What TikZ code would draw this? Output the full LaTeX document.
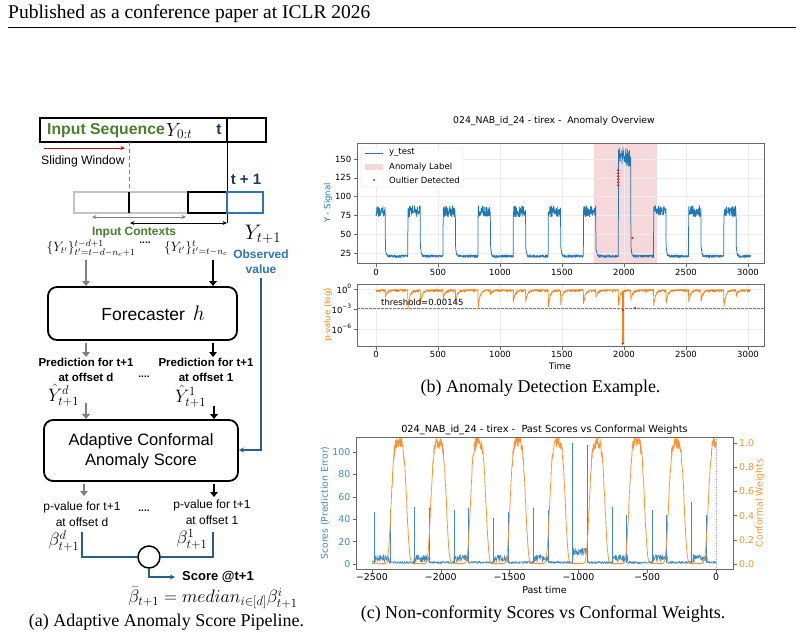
\RequirePackage{fix-cm}
\documentclass[tikz,border=0pt]{standalone}
\usepackage{fontspec}
\setmainfont{Liberation Serif}
\newfontfamily\dsf{Liberation Sans}
\newfontfamily\mpl{DejaVu Sans}
\usetikzlibrary{arrows.meta}
\definecolor{seqgreen}{RGB}{72,128,46}
\definecolor{tblue}{RGB}{31,56,100}
\definecolor{obsblue}{RGB}{46,117,182}
\definecolor{linkblue}{RGB}{38,96,132}
\definecolor{arrgray}{RGB}{128,128,128}
\definecolor{boxgray}{RGB}{195,195,195}
\definecolor{mplblue}{RGB}{31,119,180}
\definecolor{mplorange}{RGB}{255,127,14}
\definecolor{anomfill}{RGB}{247,216,218}
\definecolor{outred}{RGB}{228,30,40}
\definecolor{spine}{RGB}{105,105,105}
\definecolor{gridc}{RGB}{236,236,236}
\newcommand\mtk{\mpl\fontsize{8.5}{10}\selectfont}
\newcommand\mtkc{\mpl\fontsize{9.4}{11}\selectfont}
\newcommand\myexp[1]{10\raisebox{0.55em}{\fontsize{6}{6}\selectfont #1}}
\tikzset{
  lbl/.style={inner sep=0, font=\dsf\fontsize{12}{14}\selectfont},
  blbl/.style={inner sep=0, font=\dsf\bfseries\fontsize{11.5}{13.5}\selectfont},
  garr/.style={draw=arrgray, line width=2.4pt, -{Triangle[width=7.5pt,length=5pt]}},
  karr/.style={draw=black, line width=2.2pt, -{Triangle[width=7.5pt,length=5pt]}},
  bline/.style={draw=linkblue, line width=1.3pt},
  spn/.style={draw=spine, line width=0.6pt},
  gridl/.style={draw=gridc, line width=0.5pt},
  ttl/.style={inner sep=0, font=\mpl\fontsize{9.3}{11}\selectfont},
  captxt/.style={inner sep=0, font=\fontsize{18}{21}\selectfont},
  odot/.style={fill=outred, draw=none},
}
\begin{document}
\begin{tikzpicture}[x=1pt,y=-1pt,
 declare function={
  ph(\t)=mod(\t+25,283);
  pk(\t)=floor((\t+25)/283);
  sig(\t)=(ph(\t)<100) ? ((\t>1950 && \t<2062) ? 140+25*rnd : 73+15*rnd) : (19+3.5*rnd+14*exp(-min(max(0,ph(\t)-100)/6,9)));
  pv(\t)=0.08+0.45*rnd*rnd + (0.9+2.0*abs(sin(pk(\t)*97)))*exp(-min(ph(\t)/14,9)) + (0.6+1.6*abs(sin(pk(\t)*53+20)))*((ph(\t)>=100) ? exp(-min(max(0,ph(\t)-100)/14,9)) : 0);
  sm(\t)=mod(\t+2772,289);
  sc(\t)=(sm(\t)<108) ? (1.5+7*rnd+((\t>-1044 && \t<-933) ? 6 : 0)) : (0.3+2.2*rnd);
  wc(\t)=-2304+288*round((\t+2304)/288);
  we(\t)=(\t-wc(\t))/62;
  wt(\t)=exp(-min((we(\t)*we(\t))*(we(\t)*we(\t)),9));
 }]
\pgfmathsetseed{7}
\useasboundingbox (0,0) rectangle (804,638);
\fill[white] (0,0) rectangle (804,638);

% header
\node[anchor=base west, inner sep=0, font=\fontsize{19.5}{22}\selectfont] (hdr) at (8,18) {Published as a conference paper at ICLR 2026};
\coordinate (hrl) at (8,27.5);
\coordinate (hrr) at (796,27.5);
\draw[line width=0.8pt] (hrl) -- (hrr);

% ================= (a) pipeline =================
\node[draw, line width=1.2pt, minimum width=226pt, minimum height=24pt, inner sep=0] (seqbox) at (153,130) {};
\coordinate (divt) at (227,118);
\coordinate (divb) at (227,142);
\draw[line width=1.2pt] (divt) -- (divb);
\node[anchor=west, inner sep=0, font=\dsf\bfseries\fontsize{15.8}{17}\selectfont, text=seqgreen] (inseq) at (47,131) {Input Sequence};
\node[anchor=west, inner sep=0, font=\fontsize{19}{20}\selectfont] (y0t) at ([xshift=1pt]inseq.east) {$Y_{0:t}$};
\node[inner sep=0, font=\dsf\bfseries\fontsize{15.5}{17}\selectfont, text=tblue] (tlab) at (219,130) {t};

\coordinate (ra) at (44,148);
\coordinate (rb) at (125,148);
\draw[red!80!black, line width=1pt, -{Stealth[length=4.5pt,width=4pt]}] (ra) -- (rb);
\node[anchor=west, inner sep=0, font=\dsf\fontsize{12.2}{13}\selectfont] (slw) at (41,161) {Sliding Window};
\coordinate (dsh) at (129,142);
\coordinate (dshb) at (129,192);
\draw[arrgray, line width=0.9pt, dash pattern=on 4pt off 3pt] (dsh) -- (dshb);
\coordinate (vln) at (227,223);
\draw[line width=1pt] (divb) -- (vln);
\node[inner sep=0, font=\dsf\bfseries\fontsize{15}{17}\selectfont, text=tblue] (tp1) at (246,179) {t + 1};

\draw[boxgray, line width=1.5pt] (74,192) rectangle (188,213);
\draw[black, line width=1.2pt] (188,192) rectangle (227,213);
\draw[black, line width=1.2pt] (129,192) -- (129,213);
\draw[obsblue, line width=1.2pt] (227,192) rectangle (263,213);
\coordinate (ga1) at (92,217);
\coordinate (ga2) at (186,217);
\draw[arrgray, line width=0.9pt, {Stealth[length=4.5pt,width=4pt]}-{Stealth[length=4.5pt,width=4pt]}] (ga1) -- (ga2);
\coordinate (ka1) at (130,223);
\draw[black, line width=0.9pt, {Stealth[length=4.5pt,width=4pt]}-{Stealth[length=4.5pt,width=4pt]}] (ka1) -- (vln);

\node[inner sep=0, font=\dsf\bfseries\fontsize{12}{14}\selectfont, text=seqgreen] (ictx) at (134,233) {Input Contexts};
\node[inner sep=0, font=\fontsize{21}{23}\selectfont] (yt1) at (263,234) {$Y_{t+1}$};
\node[inner sep=0, font=\fontsize{13.5}{15}\selectfont] (ctxl) at (91,248) {$\{Y_{t'}\}^{t-d+1}_{t'=t-d-n_c+1}$};
\node[inner sep=0, font=\dsf\bfseries\fontsize{10}{10}\selectfont] (dots1) at (145,243) {....};
\node[inner sep=0, font=\fontsize{13.5}{15}\selectfont] (ctxr) at (196,248) {$\{Y_{t'}\}^{t}_{t'=t-n_c}$};
\node[inner sep=0, font=\dsf\bfseries\fontsize{12}{14}\selectfont, text=obsblue, fill=white, inner xsep=1pt] (obs) at (261,254) {Observed};
\node[inner sep=0, font=\dsf\bfseries\fontsize{12}{14}\selectfont, text=obsblue] (obsv) at (261,269) {value};

\node[draw, rounded corners=9pt, line width=1.8pt, minimum width=189pt, minimum height=53pt, inner sep=0] (fc) at (142.5,313.5) {};
\node[inner sep=0, font=\dsf\fontsize{17.5}{19}\selectfont] (fct) at (153,313) {Forecaster \,\fontsize{21}{22}\selectfont$h$};
\coordinate (gA) at (86,260);
\coordinate (kA) at (213,260);
\draw[garr] (gA) -- (gA |- fc.north);
\draw[karr] (kA) -- (kA |- fc.north);
\coordinate (obt) at (261,278);
\coordinate (obc) at (261,450);

\coordinate (gB) at (86,343);
\coordinate (gBe) at (86,357);
\coordinate (kB) at (213,343);
\coordinate (kBe) at (213,357);
\draw[garr, line width=2pt] (gB) -- (gBe);
\draw[karr, line width=2pt] (kB) -- (kBe);
\node[blbl] (pdl1) at (86,362.5) {Prediction for t+1};
\node[blbl] (pdl2) at (86,377.5) {at offset d};
\node[blbl] (pdr1) at (206,362.5) {Prediction for t+1};
\node[blbl] (pdr2) at (206,377.5) {at offset 1};
\node[inner sep=0, font=\dsf\bfseries\fontsize{10}{10}\selectfont] (dots2) at (144,377) {....};
\node[inner sep=0, font=\fontsize{18}{19}\selectfont] (yhd) at (63.5,395.5) {$\hat{Y}^{d}_{t+1}$};
\node[inner sep=0, font=\fontsize{18}{19}\selectfont] (yh1) at (190.5,396.5) {$\hat{Y}^{1}_{t+1}$};

\node[draw, rounded corners=9pt, line width=1.8pt, minimum width=194pt, minimum height=61pt, inner sep=0] (acs) at (141,450.5) {};
\node[inner sep=0, font=\dsf\fontsize{16.5}{19}\selectfont] (acs1) at (141,441) {Adaptive Conformal};
\node[inner sep=0, font=\dsf\fontsize{16.5}{19}\selectfont] (acs2) at (141,461) {Anomaly Score};
\coordinate (gC) at (86,403);
\coordinate (kC) at (214,406);
\draw[garr, line width=2.2pt] (gC) -- (gC |- acs.north);
\draw[karr, line width=2pt] (kC) -- (kC |- acs.north);
\draw[bline, -{Stealth[length=5pt,width=5pt]}] (obt) -- (obc) -- (obc -| acs.east);

\coordinate (gD) at (84,484);
\coordinate (gDe) at (84,496);
\coordinate (kD) at (214,484);
\coordinate (kDe) at (214,497);
\draw[garr, line width=2pt] (gD) -- (gDe);
\draw[karr, line width=2pt] (kD) -- (kDe);
\node[lbl] (pvl1) at (82,507) {p-value for t+1};
\node[lbl] (pvl2) at (82,522) {at offset d};
\node[lbl] (pvr1) at (212,505) {p-value for t+1};
\node[lbl] (pvr2) at (212,520) {at offset 1};
\node[inner sep=0, font=\dsf\bfseries\fontsize{10}{10}\selectfont] (dots3) at (144,511) {....};
\node[inner sep=0, font=\fontsize{18}{19}\selectfont] (bd) at (64,541) {$\beta^{d}_{t+1}$};
\node[inner sep=0, font=\fontsize{18}{19}\selectfont] (b1) at (192,539) {$\beta^{1}_{t+1}$};
\node[draw, circle, line width=1.5pt, minimum size=22pt, inner sep=0] (agg) at (149,557) {};
\coordinate (bl1) at (82,532);
\coordinate (br1) at (213,532);
\draw[bline] (bl1) -- (bl1 |- agg.west) -- (agg.west);
\draw[bline] (br1) -- (br1 |- agg.east) -- (agg.east);
\coordinate (scr) at (149,577);
\node[anchor=west, inner sep=0, font=\dsf\bfseries\fontsize{13}{15}\selectfont] (score) at (182,577) {Score @t+1};
\draw[bline, -{Stealth[length=5pt,width=5pt]}] (agg.south) -- (scr) -- ([xshift=-7pt]score.west);
\node[inner sep=0, font=\fontsize{18}{19}\selectfont] (beq) at (213,598.5) {$\bar{\beta}_{t+1} = median_{i\in[d]}\beta^{i}_{t+1}$};
\node[captxt] (capa) at (166.5,622) {(a) Adaptive Anomaly Score Pipeline.};

% ================= (b) anomaly overview =================
\node[ttl] (ttlb) at (554,121) {024\_NAB\_id\_24 - tirex -\ \ Anomaly Overview};
\begin{scope}
  \clip (357,143) rectangle (764,263);
  \fill[anomfill] (594,143) rectangle (657,263);
  \foreach \gx in {376,438,500,562,624,686,748} \draw[gridl] (\gx,143) -- (\gx,263);
  \foreach \gy in {253,234.2,215.4,196.6,177.8,159} \draw[gridl] (357,\gy) -- (764,\gy);
  \begin{scope}[shift={(376,271.8)},xscale=0.124,yscale=-0.752]
    \draw[mplblue, line width=0.75pt, line join=round] plot[domain=0:3020, samples=1511, variable=\t] (\t,{sig(\t)});
  \end{scope}
  \foreach \yy in {185.3,182.3,179.3,176.3,173.3,170.3} \fill[odot] (618.2,\yy) circle (1.3);
  \fill[odot] (632.4,238) circle (1.3);
\end{scope}
\draw[spn] (357,143) rectangle (764,263);
\foreach \v/\yy in {25/253,50/234.2,75/215.4,100/196.6,125/177.8,150/159} {
  \draw[spn] (357,\yy) -- (353.5,\yy);
  \node[anchor=east, inner sep=0, font=\mtk] (byt\v) at (351.5,\yy) {\v};
}
\foreach \v/\xx in {0/376,500/438,1000/500,1500/562,2000/624,2500/686,3000/748} {
  \draw[spn] (\xx,263) -- (\xx,266.5);
  \node[inner sep=0, font=\mtk] (bxt\v) at (\xx,272) {\v};
}
\node[rotate=90, inner sep=0, font=\mpl\fontsize{8.5}{10}\selectfont, text=mplblue] (ylb) at (328,203) {Y - Signal};
% legend
\node[draw=gray!30, fill=white, rounded corners=2pt, minimum width=102pt, minimum height=39pt, inner sep=0] (leg) at (412,167.5) {};
\coordinate (lg1a) at (365,153);
\coordinate (lg1b) at (383,153);
\draw[mplblue, line width=0.8pt] (lg1a) -- (lg1b);
\fill[anomfill] (365,163.5) rectangle (383,170);
\fill[odot] (374,180) circle (1.2);
\node[anchor=west, inner sep=0, font=\mtk] (lgt1) at (389,153) {y\_test};
\node[anchor=west, inner sep=0, font=\mtk] (lgt2) at (389,167) {Anomaly Label};
\node[anchor=west, inner sep=0, font=\mtk] (lgt3) at (389,180) {Oultier Detected};

% lower p-value panel
\begin{scope}
  \clip (357,284) rectangle (764,346);
  \foreach \gx in {376,438,500,562,624,686,748} \draw[gridl] (\gx,284) -- (\gx,346);
  \foreach \gy in {289,309,329} \draw[gridl] (357,\gy) -- (764,\gy);
  \draw[gray, line width=0.6pt, dash pattern=on 2.5pt off 1.5pt] (357,308) -- (764,308);
  \begin{scope}[shift={(376,289)},xscale=0.124,yscale=6.67]
    \draw[mplorange, line width=0.7pt, line join=round] plot[domain=0:3020, samples=1511, variable=\t] (\t,{pv(\t)});
  \end{scope}
  \draw[mplorange, line width=1.6pt] (622.8,291) -- (622.8,344);
  \fill[odot] (622.8,310) circle (1.3);
  \fill[odot] (622.8,343.5) circle (1.3);
  \fill[odot] (635.2,308) circle (1.3);
\end{scope}
\draw[spn] (357,284) rectangle (764,346);
\node[anchor=west, inner sep=0, font=\mtk] (thr) at (381,302.5) {threshold=0.00145};
\foreach \v/\yy/\nm in {0/289/a,−3/309/b,−6/329/c} {
  \draw[spn] (357,\yy) -- (353.5,\yy);
  \node[anchor=east, inner sep=0, font=\mtk] (pyt\nm) at (351.5,\yy) {\myexp{\v}};
}
\foreach \v/\xx in {0/376,500/438,1000/500,1500/562,2000/624,2500/686,3000/748} {
  \draw[spn] (\xx,346) -- (\xx,349.5);
  \node[inner sep=0, font=\mtk] (pxt\v) at (\xx,354.5) {\v};
}
\node[inner sep=0, font=\mpl\fontsize{9}{10}\selectfont] (timel) at (560,366) {Time};
\node[rotate=90, inner sep=0, font=\mpl\fontsize{8.5}{10}\selectfont, text=mplorange] (ylp) at (328,315) {p-value (log)};
\node[captxt] (capb) at (540.5,388) {(b) Anomaly Detection Example.};

% ================= (c) scores vs weights =================
\node[ttl, font=\mpl\fontsize{9.8}{11}\selectfont] (ttlc) at (544.5,430) {024\_NAB\_id\_24 - tirex -\ \ Past Scores vs Conformal Weights};
\begin{scope}
  \clip (356,437) rectangle (733,569);
  \begin{scope}[shift={(716,564)},xscale=0.1376,yscale=-1.12]
    \draw[mplblue!85, line width=0.5pt, line join=round] plot[domain=-2500:0, samples=1251, variable=\t] (\t,{sc(\t)});
    \foreach \p/\h in {-2483/46,-2369/49,-2193/51,-2086/50,-1904/48,-1800/50,-1618/41,-1509/46,-1328/50,-1219/48,-1044/108,-933/106,-751/51,-649/44,-465/48,-359/44,-177/55,-73/44}
      \draw[mplblue!85, line width=0.7pt] (\p,1) -- (\p,\h);
  \end{scope}
  \begin{scope}[shift={(716,564)},xscale=0.1376,yscale=-121]
    \draw[mplorange!85, line width=0.8pt, line join=round] plot[domain=-2500:0, samples=1251, variable=\t] (\t,{wt(\t)*(1+0.05*rand)+0.008*rnd});
  \end{scope}
  \draw[gray!70, line width=0.5pt, dash pattern=on 1pt off 1pt] (716,437) -- (716,569);
\end{scope}
\draw[spn] (356,437) rectangle (733,569);
\foreach \v/\xx/\nm in {−2500/372/a,−2000/440.8/b,−1500/509.6/c,−1000/578.4/d,−500/647.2/e,0/716/f} {
  \draw[spn] (\xx,569) -- (\xx,572.5);
  \node[inner sep=0, font=\mtkc] (cxt\nm) at (\xx,577.5) {\v};
}
\foreach \v/\yy in {0/564,20/541.6,40/519.2,60/496.8,80/474.4,100/452} {
  \draw[spn] (356,\yy) -- (352.5,\yy);
  \node[anchor=east, inner sep=0, font=\mtkc, text=mplblue!85] (cyl\v) at (350.5,\yy) {\v};
}
\foreach \v/\yy/\nm in {0.0/564/a,0.2/539.8/b,0.4/515.6/c,0.6/491.4/d,0.8/467.2/e,1.0/443/f} {
  \draw[spn] (733,\yy) -- (736.5,\yy);
  \node[anchor=west, inner sep=0, font=\mtkc, text=mplorange!85] (cyr\nm) at (739,\yy) {\v};
}
\node[inner sep=0, font=\mpl\fontsize{9.5}{11}\selectfont] (ptime) at (544.5,590) {Past time};
\node[rotate=90, inner sep=0, font=\mpl\fontsize{9.3}{11}\selectfont, text=mplblue!85] (ylc) at (325,503) {Scores (Prediction Error)};
\node[rotate=90, inner sep=0, font=\mpl\fontsize{9.3}{11}\selectfont, text=mplorange!85] (yrc) at (760,503) {Conformal Weights};
\node[captxt] (capc) at (543,614) {(c) Non-conformity Scores vs Conformal Weights.};
\end{tikzpicture}
\end{document}
